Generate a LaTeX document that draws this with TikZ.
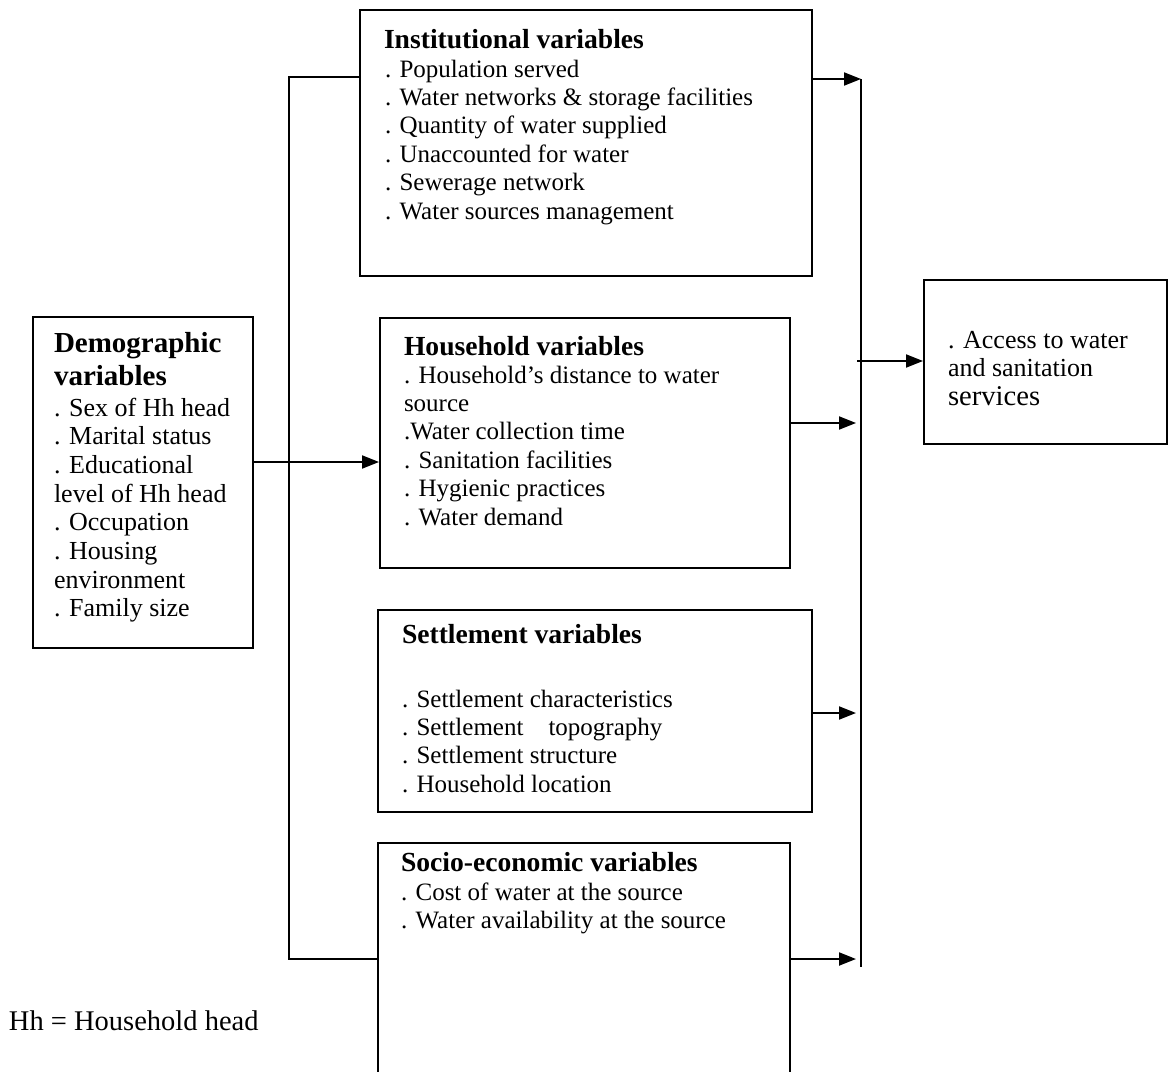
\documentclass[tikz,border=0pt]{standalone}
\usepackage{fontspec}
\setmainfont{Liberation Serif}
\usetikzlibrary{arrows.meta}
\newcommand{\mylines}[2]{\vtop{\baselineskip=#1\lineskiplimit=-100pt\lineskip=0pt\relax #2}}
\begin{document}
\begin{tikzpicture}[x=1pt,y=-1pt,line width=2pt,
  box/.style={draw,line width=2pt,inner sep=0pt,rectangle},
  txt/.style={anchor=base west,inner sep=0pt,font=\fontsize{25}{28.4}\selectfont},
  demotxt/.style={anchor=base west,inner sep=0pt,font=\fontsize{26}{28.7}\selectfont},
  head/.style={anchor=base west,inner sep=0pt,font=\fontsize{27.6}{30}\selectfont\bfseries},
  arr/.style={-{Triangle[length=17pt,width=13pt]}}]
\useasboundingbox (0,0) rectangle (1169,1071);
\clip (0,0) rectangle (1169,1071);

% boxes
\node[box,minimum width=452pt,minimum height=266pt] (inst) at (586,143) {};
\node[box,minimum width=220pt,minimum height=331pt] (demo) at (143,482.5) {};
\node[box,minimum width=410pt,minimum height=250pt] (hh) at (585,443) {};
\node[box,minimum width=434pt,minimum height=202pt] (sett) at (595,711) {};
\node[box,minimum width=412pt,minimum height=257pt] (socio) at (584,971.5) {};
\node[box,minimum width=243pt,minimum height=164pt] (access) at (1045.5,362) {};

% texts
\node[head] (insth) at (383,48) {Institutional variables};
\node[txt] (instb) at (384,77) {\mylines{28.4pt}{%
  \hbox{. Population served}
  \hbox{. Water networks \& storage facilities}
  \hbox{. Quantity of water supplied}
  \hbox{. Unaccounted for water}
  \hbox{. Sewerage network}
  \hbox{. Water sources management}}};

\node[head,font=\fontsize{29}{33}\selectfont\bfseries] (demoh) at (53,352) {\mylines{33pt}{%
  \hbox{Demographic}
  \hbox{variables}}};
\node[demotxt] (demob) at (53,416) {\mylines{28.7pt}{%
  \hbox{. Sex of Hh head}
  \hbox{. Marital status}
  \hbox{. Educational}
  \hbox{level of Hh head}
  \hbox{. Occupation}
  \hbox{. Housing}
  \hbox{environment}
  \hbox{. Family size}}};

\node[head] (hhh) at (403,355) {Household variables};
\node[txt] (hhb) at (403,383) {\mylines{28.4pt}{%
  \hbox{. Household’s distance to water}
  \hbox{source}
  \hbox{.Water collection time}
  \hbox{. Sanitation facilities}
  \hbox{. Hygienic practices}
  \hbox{. Water demand}}};

\node[head] (setth) at (401,643) {Settlement variables};
\node[txt] (settb) at (401,707) {\mylines{28.4pt}{%
  \hbox{. Settlement characteristics}
  \hbox{. Settlement\hspace{0.75em} topography}
  \hbox{. Settlement structure}
  \hbox{. Household location}}};

\node[head] (socioh) at (400,871) {Socio-economic variables};
\node[txt] (sociob) at (400,900) {\mylines{28.4pt}{%
  \hbox{. Cost of water at the source}
  \hbox{. Water availability at the source}}};

\node[demotxt] (acct) at (947,348) {\mylines{28.5pt}{%
  \hbox{. Access to water}
  \hbox{and sanitation}
  \hbox{\fontsize{28.6}{30}\selectfont services}}};

\node[anchor=base west,inner sep=0pt,font=\fontsize{28.5}{32}\selectfont] (note) at (8,1030) {Hh = Household head};

% connectors
\coordinate (lb1) at (289,77);
\coordinate (lb2) at (289,959);
\draw (inst.west |- lb1) -- (lb1) -- (lb2) -- (socio.west |- lb2);
\coordinate (dy) at (0,462);
\draw[arr] (demo.east |- dy) -- (hh.west |- dy);

\coordinate (rb1) at (861,79);
\coordinate (rb2) at (861,967);
\draw (rb1) -- (rb2);
\draw[arr] (inst.east |- rb1) -- (rb1);
\coordinate (rhh) at (856,423);
\draw[arr] (hh.east |- rhh) -- (rhh);
\coordinate (rst) at (856,713);
\draw[arr] (sett.east |- rst) -- (rst);
\coordinate (rso) at (856,959);
\draw[arr] (socio.east |- rso) -- (rso);
\coordinate (ro) at (857,361);
\draw[arr] (ro) -- (access.west |- ro);
\end{tikzpicture}
\end{document}
